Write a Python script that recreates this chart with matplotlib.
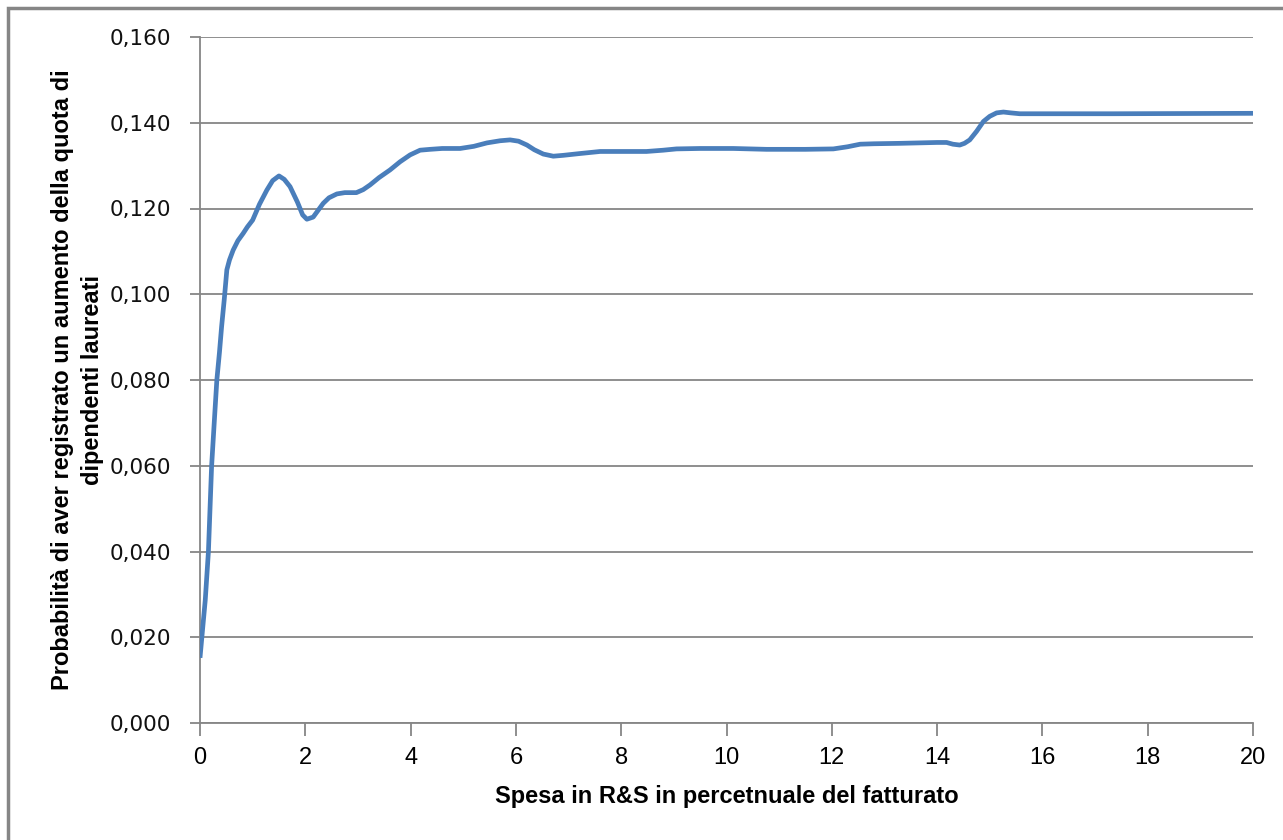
import matplotlib
matplotlib.use('Agg')
import matplotlib.pyplot as plt
from matplotlib.patches import Rectangle
from matplotlib.ticker import FuncFormatter

# values
spesa = [0.0, 0.05, 0.1, 0.16, 0.22, 0.27, 0.32, 0.37, 0.41, 0.46, 0.51,
         0.56, 0.63, 0.72, 0.82, 0.9, 1.0, 1.13, 1.27, 1.38, 1.5, 1.6,
         1.71, 1.85, 1.95, 2.03, 2.15, 2.34, 2.45, 2.6, 2.75, 2.97, 3.1,
         3.23, 3.4, 3.61, 3.8, 3.99, 4.18, 4.37, 4.6, 4.94, 5.2, 5.45, 5.7,
         5.89, 6.05, 6.21, 6.35, 6.52, 6.71, 6.9, 7.2, 7.6, 8.0, 8.48, 8.8,
         9.05, 9.5, 10.13, 10.76, 11.5, 12.03, 12.3, 12.54, 12.8, 13.3,
         14.0, 14.18, 14.3, 14.43, 14.52, 14.62, 14.75, 14.88, 15.0, 15.13,
         15.26, 15.4, 15.57, 15.8, 17.34, 20.0]
prob = [0.0152, 0.0220, 0.0287, 0.0400, 0.0598, 0.0700, 0.0800, 0.0865,
        0.0924, 0.0987, 0.1057, 0.1080, 0.1103, 0.1125, 0.1142, 0.1157,
        0.1173, 0.1210, 0.1243, 0.1265, 0.1276, 0.1268, 0.1251, 0.1215,
        0.1185, 0.1175, 0.1180, 0.1212, 0.1225, 0.1234, 0.1237, 0.1237,
        0.1244, 0.1255, 0.1272, 0.1290, 0.1309, 0.1325, 0.1336, 0.1338,
        0.1340, 0.1340, 0.1345, 0.1353, 0.1358, 0.1360, 0.1357, 0.1348,
        0.1337, 0.1327, 0.1322, 0.1324, 0.1328, 0.1333, 0.1333, 0.1333,
        0.1336, 0.1339, 0.1340, 0.1340, 0.1338, 0.1338, 0.1339, 0.1344,
        0.1350, 0.1351, 0.1352, 0.1354, 0.1354, 0.1350, 0.1348, 0.1352,
        0.1360, 0.1380, 0.1403, 0.1415, 0.1423, 0.1425, 0.1423, 0.1421,
        0.1421, 0.1421, 0.1422]

x_ticks = list(range(0, 21, 2))
y_ticks = [0.0, 0.02, 0.04, 0.06, 0.08, 0.10, 0.12, 0.14, 0.16]

grey = '#868686'
narrow = ['Liberation Sans Narrow', 'Liberation Sans', 'DejaVu Sans']

fig = plt.figure(figsize=(12.83, 8.4), dpi=100)
ax = fig.add_axes([200/1283, 1 - 723/840, 1053/1283, 686/840])

ax.plot(spesa, prob, color='#4A7EBB', lw=3.4, solid_joinstyle='round',
        solid_capstyle='butt', zorder=3)

ax.set_xlim(0, 20)
ax.set_ylim(0, 0.16)
ax.set_xticks(x_ticks)
ax.set_yticks(y_ticks)
ax.yaxis.set_major_formatter(FuncFormatter(lambda v, p: f'{v:.3f}'.replace('.', ',')))
ax.grid(axis='y', color=grey, lw=1.3)
ax.set_axisbelow(True)

for s in ['top', 'right']:
    ax.spines[s].set_visible(False)
for s in ['left', 'bottom']:
    ax.spines[s].set_color(grey)
    ax.spines[s].set_linewidth(1.3)

ax.tick_params(axis='y', direction='out', length=7, color=grey, width=1.3,
               pad=14, labelsize=15.5, labelcolor='#111111')
ax.tick_params(axis='x', direction='out', length=9, color=grey, width=1.3,
               pad=8, labelsize=17)
for t in ax.get_xticklabels():
    t.set_family(narrow)

ax.set_xlabel('Spesa in R&S in percetnuale del fatturato', family=narrow,
              fontsize=17, fontweight='bold', labelpad=12)
ax.set_ylabel('Probabilità di aver registrato un aumento della quota di\ndipendenti laureati',
              family=narrow, fontsize=17, fontweight='bold', labelpad=4,
              linespacing=1.4)

# chart area border (only left and top edge visible in the crop)
fig.patches.append(Rectangle((8/1283, -0.1), 1.2, 1 - 8/840 + 0.1,
                             transform=fig.transFigure, fill=False,
                             edgecolor=grey, lw=2.5))

fig.savefig('out.png', dpi=100)
